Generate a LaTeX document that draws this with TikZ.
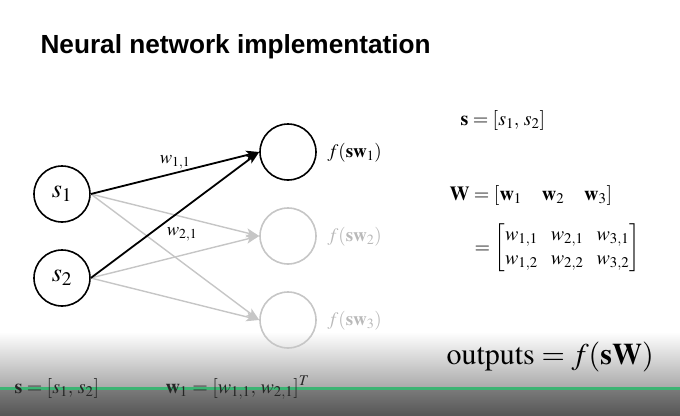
\documentclass[tikz,border=0pt]{standalone}
\usepackage{amsmath}
\usepackage{mathptmx}
\usepackage[no-math]{fontspec}
\newfontfamily\titlefont{Liberation Sans}
\usetikzlibrary{arrows.meta}
\definecolor{lgray}{RGB}{198,198,198}
\definecolor{lbl}{RGB}{185,185,185}
\definecolor{pgreen}{RGB}{60,180,115}
\begin{document}
\begin{tikzpicture}[x=1pt,y=-1pt,
  neuron/.style={circle, draw=black, line width=1.6pt, minimum size=56pt, inner sep=0pt, font=\fontsize{26}{28}\selectfont},
  ghost/.style={neuron, draw=lgray},
  conn/.style={line width=1.8pt, -{Stealth[length=13pt,width=9pt,inset=3pt]}},
  gconn/.style={conn, draw=lgray, line width=1.4pt},
  outlbl/.style={anchor=west, font=\fontsize{19}{22}\selectfont},
  wlbl/.style={font=\fontsize{18.5}{20}\selectfont},
  eqn/.style={anchor=west, font=\fontsize{20}{24}\selectfont},
  bottomtxt/.style={anchor=base west, text=black!85, font=\fontsize{20}{24}\selectfont}]
\useasboundingbox (0,0) rectangle (680,415);
% bottom overlay gradient
\shade[top color=white, bottom color=black!33] (0,332) rectangle (680,387);
\shade[top color=black!52, bottom color=black!66] (0,389) rectangle (680,415);
\draw[pgreen, line width=3pt] (0,388) -- (680,388);
% title
\node[anchor=base west, font=\titlefont\bfseries\fontsize{26.2}{30}\selectfont] (title) at (37,53) {Neural network implementation};
% neurons
\node[neuron] (s1) at (62,194) {$s_1$};
\node[neuron] (s2) at (62,278) {$s_2$};
\node[neuron] (f1) at (288,152) {};
\node[ghost] (f2) at (288,236) {};
\node[ghost] (f3) at (288,320) {};
% connections
\draw[gconn] (s1.east) -- (f2.west);
\draw[gconn] (s1.east) -- (f3.west);
\draw[gconn] (s2.east) -- (f2.west);
\draw[gconn] (s2.east) -- (f3.west);
\draw[conn] (s1.east) -- node[wlbl, above, inner sep=3pt] (w11) {$w_{1,1}$} (f1.west);
\draw[conn] (s2.east) -- (f1.west);
\node[wlbl] (w21) at (182,234) {$w_{2,1}$};
% output labels
\node[outlbl] (o1) at (324,153) {$f(\mathbf{s}\mathbf{w}_1)$};
\node[outlbl, text=lbl] (o2) at (324,237) {$f(\mathbf{s}\mathbf{w}_2)$};
\node[outlbl, text=lbl] (o3) at (324,321) {$f(\mathbf{s}\mathbf{w}_3)$};
% right equations
\node[eqn] (eqs) at (457,120) {$\mathbf{s} = [s_1,\, s_2]$};
\node[eqn] (eqW) at (446,195) {$\mathbf{W} = [\mathbf{w}_1 \quad \mathbf{w}_2 \quad \mathbf{w}_3]$};
\node[eqn] (eqM) at (471,248) {\setlength{\arraycolsep}{6.5pt}$= \begin{bmatrix} w_{1,1} & w_{2,1} & w_{3,1}\\ w_{1,2} & w_{2,2} & w_{3,2}\end{bmatrix}$};
% outputs
\node[anchor=west, font=\fontsize{30}{34}\selectfont] (outs) at (443,357) {$\mathrm{outputs} = f(\mathbf{s}\mathbf{W})$};
% bottom texts
\node[bottomtxt] (bs) at (11,393) {$\mathbf{s} = [s_1,\, s_2]$};
\node[bottomtxt] (bw) at (162,393) {$\mathbf{w}_1 = [w_{1,1},\, w_{2,1}]^T$};
\end{tikzpicture}
\end{document}
